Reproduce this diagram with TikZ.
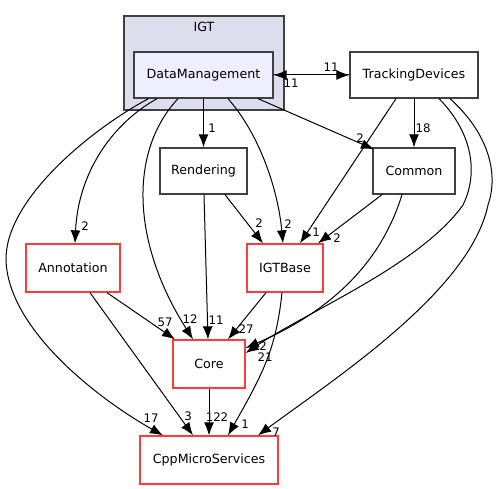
\documentclass[tikz,border=0pt]{standalone}
\usepackage{fontspec}
\setmainfont{DejaVu Sans}
\usetikzlibrary{arrows.meta}
\definecolor{clusterfill}{HTML}{DDDDEE}
\definecolor{dirfill}{HTML}{EEEEFF}
\definecolor{dirline}{HTML}{404040}
\definecolor{dirred}{HTML}{FF3B3B}
\begin{document}
\begin{tikzpicture}[x=1bp,y=-1bp,
  dir/.style={draw=dirline,line width=1.3bp,fill=white,inner sep=0pt,minimum height=46bp,font=\fontsize{12.7}{14}\selectfont},
  reddir/.style={dir,draw=dirred,minimum height=48bp},
  edge/.style={line width=1bp,-{Latex[length=13bp,width=10bp]}},
  lbl/.style={inner sep=0pt,font=\fontsize{11.8}{13}\selectfont}]
 \useasboundingbox (0,0) rectangle (500,489);

 \node[draw=dirline,line width=1.3bp,fill=clusterfill,minimum width=160bp,minimum height=94bp] (IGT) at (204,63) {};
 \node[lbl,font=\fontsize{12.7}{14}\selectfont] (IGTname) at (204,27) {IGT};

 \node[dir,fill=dirfill,minimum width=139bp] (DM) at (203.5,75) {DataManagement};
 \node[dir,minimum width=128bp] (TD) at (414,75) {TrackingDevices};
 \node[dir,minimum width=87bp] (Rend) at (203.5,171) {Rendering};
 \node[dir,minimum width=82bp] (Common) at (414,171) {Common};
 \node[reddir,minimum width=94bp] (Annot) at (73,268) {Annotation};
 \node[reddir,minimum width=76bp] (IGTBase) at (285,268) {IGTBase};
 \node[reddir,minimum width=72bp] (Core) at (209,364) {Core};
 \node[reddir,minimum width=138bp] (CppMS) at (209,460) {CppMicroServices};

 \draw[edge] (DM.east) -- (TD.west);
 \draw[edge] (TD.west) -- (DM.east);
 \draw[edge] (DM.south) -- (Rend.north);
 \draw[edge] ([xshift=54.5bp]DM.south) -- ([xshift=-40bp,yshift=-2bp]Common.north);
 \draw[edge] (TD.south) -- (Common.north);
 \draw[edge] ([xshift=-18bp]TD.south) -- ([xshift=15bp]IGTBase.north);
 \draw[edge] ([xshift=-32bp]Common.south) -- ([xshift=33bp]IGTBase.north);
 \draw[edge] ([xshift=24.5bp]DM.south) .. controls (260,135) and (278,190) .. ([xshift=-2bp]IGTBase.north);
 \draw[edge] ([xshift=21.5bp]Rend.south) -- ([xshift=-22bp]IGTBase.north);
 \draw[edge] ([xshift=-46.5bp]DM.south) .. controls (110,125) and (78,175) .. ([xshift=2bp]Annot.north);
 \draw[edge] ([xshift=-25.5bp]DM.south) .. controls (130,150) and (130,240) .. ([xshift=-16bp]Core.north);
 \draw[edge] ([xshift=0.5bp]Rend.south) -- ([xshift=-1bp]Core.north);
 \draw[edge] ([xshift=34bp]Annot.south) -- ([xshift=-34bp]Core.north);
 \draw[edge] ([xshift=-19bp]IGTBase.south) -- ([xshift=19bp]Core.north);
 \draw[edge] ([xshift=-12bp]Common.south) .. controls (385,250) and (345,305) .. ([yshift=16bp]Core.east);
 \draw[edge] ([xshift=25bp]TD.south) .. controls (470,130) and (480,170) .. (463,205)
   .. controls (420,265) and (310,310) .. ([yshift=11bp]Core.east);
 \draw[edge] ([xshift=-55bp]DM.south) .. controls (90,130) and (5,200) .. (6,260)
   .. controls (8,330) and (100,400) .. ([xshift=-46bp]CppMS.north);
 \draw[edge] ([xshift=17bp]Annot.south) -- ([xshift=-16bp]CppMS.north);
 \draw[edge] (Core.south) -- (CppMS.north);
 \draw[edge] ([xshift=-3bp]IGTBase.south) .. controls (276,350) and (262,375) .. ([xshift=19bp]CppMS.north);
 \draw[edge] ([xshift=36bp]TD.south) .. controls (485,130) and (500,170) .. (488,205)
   .. controls (470,290) and (340,375) .. ([xshift=49bp]CppMS.north);

 \node[lbl] (l1) at (331,67) {11};
 \node[lbl] (l2) at (291,83) {11};
 \node[lbl] (l3) at (212,128) {1};
 \node[lbl] (l4) at (360,138) {2};
 \node[lbl] (l5) at (423,128) {18};
 \node[lbl] (l6) at (316,232) {1};
 \node[lbl] (l7) at (337,238) {2};
 \node[lbl] (l8) at (288,224) {2};
 \node[lbl] (l9) at (259,223) {2};
 \node[lbl] (l10) at (85,226) {2};
 \node[lbl] (l11) at (190,319) {12};
 \node[lbl] (l12) at (216,320) {11};
 \node[lbl] (l13) at (165,322) {57};
 \node[lbl] (l14) at (246,329) {27};
 \node[lbl] (l15) at (263,346) {2};
 \node[lbl] (l16) at (265,357) {21};
 \node[lbl] (l17) at (151,418) {17};
 \node[lbl] (l18) at (188,416) {3};
 \node[lbl] (l19) at (217,417) {122};
 \node[lbl] (l20) at (245,424) {1};
 \node[lbl] (l21) at (276,432) {7};
\end{tikzpicture}
\end{document}
